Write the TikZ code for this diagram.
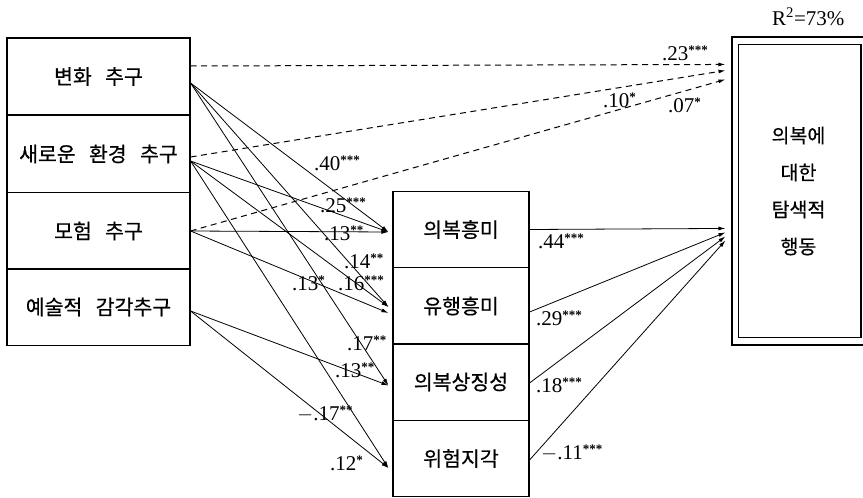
\documentclass[tikz,border=0pt]{standalone}
\usepackage{fontspec}
\setmainfont{Liberation Serif}
\newfontfamily\kr[FakeBold=0.5]{Noto Sans CJK KR}
\usetikzlibrary{arrows.meta}
\newcommand\gap{\hspace{.65em}}
\newcommand\sig[1]{\raisebox{5.5pt}{\fontsize{13}{13}\bfseries #1}}
\begin{document}
\begin{tikzpicture}[x=1pt,y=-1pt,>={Latex[length=7pt,width=4pt]},
    box/.style={draw,line width=1.1pt,inner sep=0pt,font=\kr\fontsize{20.5}{24}\selectfont},
    lbox/.style={box,minimum width=183pt,minimum height=77pt},
    mbox/.style={box,minimum width=136pt,minimum height=76.5pt},
    eff/.style={->,line width=.8pt},
    deff/.style={eff,line width=1pt,dash pattern=on 6pt off 4.5pt},
    coef/.style={anchor=base west,inner sep=0pt,font=\fontsize{21}{24}\selectfont}]
    \useasboundingbox (0,0) rectangle (863,498);
    \node[lbox] (chg) at (98.5,76.5) {변화\gap 추구};
    \node[lbox] (nov) at (98.5,154) {새로운\gap 환경\gap 추구};
    \node[lbox] (adv) at (98.5,231) {모험\gap 추구};
    \node[lbox] (art) at (98.5,307) {예술적\gap 감각추구};
    \node[mbox] (intr) at (461,229.5) {의복흥미};
    \node[mbox] (fash) at (461,306) {유행흥미};
    \node[mbox] (symb) at (461,382) {의복상징성};
    \node[mbox] (risk) at (461,458.5) {위험지각};
    \node[draw,line width=1.1pt,minimum width=133pt,minimum height=308pt,align=center,
        font=\kr\fontsize{19.5}{37}\selectfont] (expl) at (798.5,191) {의복에\\대한\\탐색적\\행동};
    \draw[line width=1.8pt] ([shift={(7pt,-8pt)}]expl.north west) rectangle ([shift={(-4.5pt,8pt)}]expl.south east);
    \node[coef] (rsq) at (772,25) {R\textsuperscript{2}=73\%};
    % direct paths
    \draw[deff] ([yshift=10.5pt]chg.east) -- ([xshift=-6pt,yshift=-28pt]expl.north west);
    \draw[deff] ([yshift=-3pt]nov.east) -- ([xshift=-6pt,yshift=-34pt]expl.north west);
    \draw[deff] (adv.east) -- ([xshift=-6pt,yshift=-43pt]expl.north west);
    % to the mediators
    \draw[eff] ([yshift=-6.5pt]chg.east) -- ([xshift=-4pt,yshift=-2.5pt]intr.west);
    \draw[eff] ([yshift=-6.5pt]chg.east) -- ([xshift=-4pt,yshift=-1pt]fash.west);
    \draw[eff] ([yshift=-6.5pt]chg.east) -- ([xshift=-4pt,yshift=-3.5pt]symb.west);
    \draw[eff] ([yshift=-7pt]nov.east) -- ([xshift=-4pt,yshift=-2.5pt]intr.west);
    \draw[eff] ([yshift=-7pt]nov.east) -- ([xshift=-4pt,yshift=-1pt]fash.west);
    \draw[eff] ([yshift=-7pt]nov.east) -- ([xshift=-4pt,yshift=-9.5pt]risk.west);
    \draw[eff] (adv.east) -- ([xshift=-4pt,yshift=-2.5pt]intr.west);
    \draw[eff] (adv.east) -- ([xshift=-4pt,yshift=-7pt]fash.west);
    \draw[eff] ([yshift=-4pt]art.east) -- ([xshift=-4pt,yshift=-3.5pt]symb.west);
    \draw[eff] ([yshift=-4pt]art.east) -- ([xshift=-4pt,yshift=-9.5pt]risk.west);
    % mediators to behaviour
    \draw[eff] (intr.east) -- ([xshift=-6pt,yshift=-192pt]expl.north west);
    \draw[eff] ([yshift=-6pt]fash.east) -- ([xshift=-6pt,yshift=-196pt]expl.north west);
    \draw[eff] ([yshift=-1pt]symb.east) -- ([xshift=-6pt,yshift=-200pt]expl.north west);
    \draw[eff] ([yshift=-1.5pt]risk.east) -- ([xshift=-6pt,yshift=-204pt]expl.north west);
    % coefficients
    \node[coef] (chgexpl) at (662,60) {.23\sig{***}};
    \node[coef] (novexpl) at (603,107) {.10\sig{*}};
    \node[coef] (advexpl) at (668,112) {.07\sig{*}};
    \node[coef] (chgintr) at (314,170) {.40\sig{***}};
    \node[coef] (novintr) at (320,212) {.25\sig{***}};
    \node[coef] (advintr) at (324,240) {.13\sig{**}};
    \node[coef] (chgfash) at (344,268) {.14\sig{**}};
    \node[coef] (advfash) at (292,290) {.13\sig{*}};
    \node[coef] (novfash) at (338,290) {.16\sig{***}};
    \node[coef] (chgsymb) at (347,350) {.17\sig{**}};
    \node[coef] (artsymb) at (335,377) {.13\sig{**}};
    \node[coef] (novrisk) at (297,420) {$-$.17\sig{**}};
    \node[coef] (artrisk) at (330,470) {.12\sig{*}};
    \node[coef] (intrexpl) at (538,248) {.44\sig{***}};
    \node[coef] (fashexpl) at (536,325) {.29\sig{***}};
    \node[coef] (symbexpl) at (536,392) {.18\sig{***}};
    \node[coef] (riskexpl) at (541,459) {$-$.11\sig{***}};
\end{tikzpicture}
\end{document}
